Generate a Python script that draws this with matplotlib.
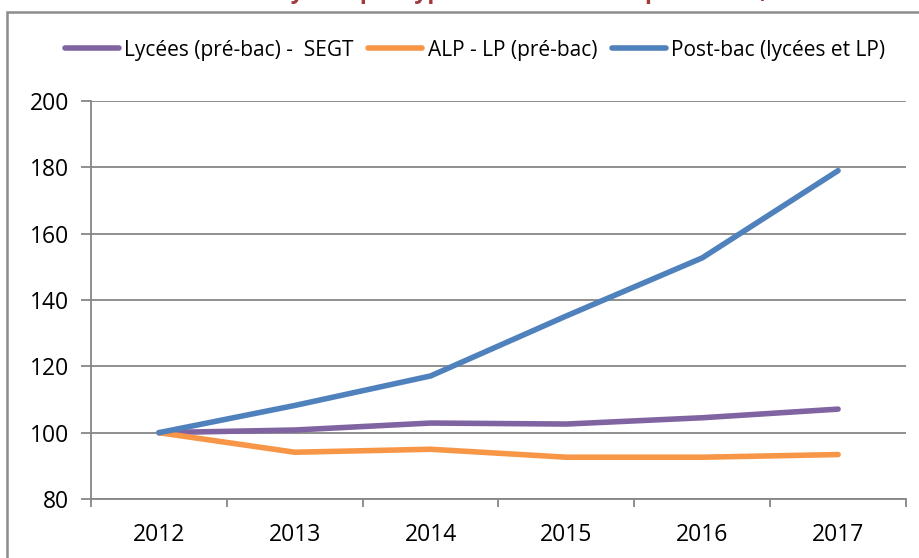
import matplotlib
matplotlib.use("Agg")
import matplotlib.pyplot as plt
from matplotlib.patches import Rectangle
from matplotlib.ticker import FixedLocator

years = ["2012", "2013", "2014", "2015", "2016", "2017"]
lycees = [100, 100.8, 102.9, 102.6, 104.5, 107.1]
alp = [100, 94.1, 95.0, 92.6, 92.6, 93.4]
postbac = [100, 108.2, 117.1, 135.2, 152.7, 179.0]
series_names = ["Lycées (pré-bac) -  SEGT", "ALP - LP (pré-bac)", "Post-bac (lycées et LP)"]
colors = ["#8064A2", "#F79646", "#4F81BD"]
yticks = [80, 100, 120, 140, 160, 180, 200]
title = "Évolution des effectifs en lycées par type de formation depuis 2012 (indice base 100)"
title_prefix = "Évolution des effectifs en lycées "

W, H = 920, 558
plt.rcParams['font.family'] = ['Open Sans', 'DejaVu Sans']
fig = plt.figure(figsize=(W / 100, H / 100), dpi=100)
ax = fig.add_axes([91/W, 1-499/H, (906-91)/W, (499-101)/H])

x = list(range(len(years)))
for vals, name, c in zip([lycees, alp, postbac], series_names, colors):
    ax.plot(x, vals, color=c, lw=4, label=name, solid_capstyle='round', solid_joinstyle='round')

ax.set_xlim(-0.5, len(years) - 0.5)
ax.set_ylim(80, 200)
ax.set_yticks(yticks)
ax.set_xticks(x)
ax.set_xticklabels(years)
ax.xaxis.set_minor_locator(FixedLocator([i - 0.5 for i in range(len(years) + 1)]))
ax.tick_params(axis='x', which='major', length=0, pad=17, labelsize=16.5)
ax.tick_params(axis='x', which='minor', length=6, color='#868686', width=1.3)
ax.tick_params(axis='y', length=7, color='#868686', width=1.3, labelsize=16.5, pad=9)
ax.grid(axis='y', color='#868686', lw=1.3)
ax.set_axisbelow(True)
for s in ['top', 'right']:
    ax.spines[s].set_visible(False)
for s in ['left', 'bottom']:
    ax.spines[s].set_color('#868686')
    ax.spines[s].set_linewidth(1.3)

fig.legend(loc='center', bbox_to_anchor=(475/W, 1-50/H), ncol=3, frameon=False,
           fontsize=15, handlelength=2.6, handletextpad=0.25, columnspacing=0.7)

fig.patches.append(Rectangle((7/W, -0.1), 1.2, (1-12/H) + 0.1, transform=fig.transFigure,
                             fill=False, edgecolor='#8c8c8c', lw=1.8, zorder=0))

# title (cut off at the top edge, as in the reference); align "par" under x ~ 367 px
renderer = fig.canvas.get_renderer()
tkw = dict(color='#A33A3A', fontsize=16.5, fontweight='bold', va='baseline', ha='left')
tmp = fig.text(0, 0, title_prefix + "p", **tkw)
wp = tmp.get_window_extent(renderer).width
tmp.set_text("p")
w1 = tmp.get_window_extent(renderer).width
tmp.remove()
x0 = 367 - (wp - w1 / 2)
fig.text(x0 / W, 1.0 + 2.0 / H, title, **tkw)

fig.savefig("out.png", dpi=100)
